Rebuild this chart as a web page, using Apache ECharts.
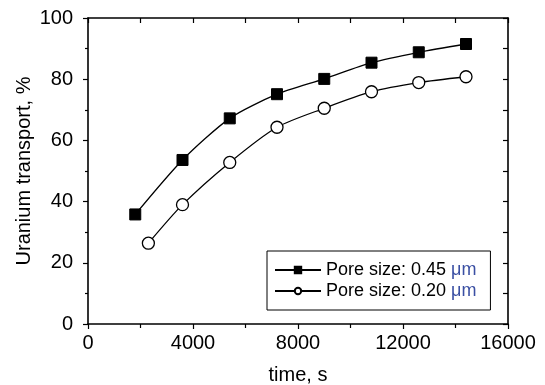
<!DOCTYPE html>
<html>
<head>
<meta charset="utf-8">
<script src="https://cdn.jsdelivr.net/npm/echarts@6/dist/echarts.min.js"></script>
<style>html,body{margin:0;padding:0;background:#fff}#c{width:545px;height:385px}</style>
</head>
<body>
<div id="c"></div>
<script>
var seriesNames = ['Pore size: 0.45 \u03bcm', 'Pore size: 0.20 \u03bcm'];
var times045 = [1800, 3600, 5400, 7200, 9000, 10800, 12600, 14400];
var values045 = [35.8, 53.6, 67.2, 75.1, 80.1, 85.4, 88.8, 91.5];
var times020 = [2300, 3600, 5400, 7200, 9000, 10800, 12600, 14400];
var values020 = [26.4, 39.0, 52.8, 64.3, 70.5, 75.9, 78.9, 80.8];
var xTickLabels = ['0', '4000', '8000', '12000', '16000'];
var yTickLabels = ['0', '20', '40', '60', '80', '100'];

function pairs(xs, ys) { return xs.map(function (x, i) { return [x, ys[i]]; }); }

var FONT = 'Liberation Sans, Arial, sans-serif';
var axisLineStyle = { color: '#000', width: 1.6 };

var chart = echarts.init(document.getElementById('c'), null, { renderer: 'canvas' });
chart.setOption({
  animation: false,
  backgroundColor: '#fff',
  grid: { left: 88, right: 37, top: 18, bottom: 61, containLabel: false, outerBoundsMode: 'none' },
  legend: {
    orient: 'vertical',
    left: 267, top: 251,
    width: 225,
    padding: [10, 14, 10, 7],
    borderColor: '#000', borderWidth: 1,
    itemWidth: 46, itemHeight: 8, itemGap: 3,
    data: seriesNames,
    formatter: function (name) {
      var idx = name.indexOf('\u03bcm');
      return name.slice(0, idx) + '{u|\u03bcm}';
    },
    textStyle: {
      fontFamily: FONT, fontSize: 18, color: '#000', lineHeight: 18, padding: [0, 0, 0, 0],
      rich: { u: { fontFamily: FONT, fontSize: 18, lineHeight: 18, color: '#3a4fa3' } }
    }
  },
  xAxis: [{
    type: 'value', position: 'bottom', min: 0, max: 16000, interval: 4000,
    name: 'time, s', nameLocation: 'middle', nameGap: 41, nameMoveOverlap: false,
    nameTextStyle: { fontFamily: FONT, fontSize: 20, color: '#000' },
    axisLine: { show: true, lineStyle: axisLineStyle },
    axisTick: { show: true, inside: false, length: 5, lineStyle: { color: '#000', width: 1.2 } },
    minorTick: { show: true, splitNumber: 2, length: 4, lineStyle: { color: '#000', width: 1.2 } },
    axisLabel: { fontFamily: FONT, fontSize: 20, color: '#000', margin: 9,
      formatter: function (v) { return xTickLabels[Math.round(v / 4000)]; } },
    splitLine: { show: false }
  }, {
    type: 'value', position: 'top', min: 0, max: 16000, interval: 2000,
    axisLine: { show: true, onZero: false, lineStyle: axisLineStyle },
    axisTick: { show: true, inside: true, length: 5, lineStyle: { color: '#000', width: 1.2 } },
    axisLabel: { show: false }, splitLine: { show: false }
  }],
  yAxis: [{
    type: 'value', position: 'left', min: 0, max: 100, interval: 20,
    name: 'Uranium transport, %', nameLocation: 'middle', nameGap: 54, nameMoveOverlap: false,
    nameTextStyle: { fontFamily: FONT, fontSize: 20, color: '#000' },
    axisLine: { show: true, lineStyle: axisLineStyle },
    axisTick: { show: true, inside: false, length: 5, lineStyle: { color: '#000', width: 1.2 } },
    minorTick: { show: true, splitNumber: 2, length: 3, lineStyle: { color: '#000', width: 1.2 } },
    axisLabel: { fontFamily: FONT, fontSize: 20, color: '#000', margin: 15,
      formatter: function (v) { return yTickLabels[Math.round(v / 20)]; } },
    splitLine: { show: false }
  }, {
    type: 'value', position: 'right', min: 0, max: 100, interval: 10,
    axisLine: { show: true, onZero: false, lineStyle: axisLineStyle },
    axisTick: { show: true, inside: true, length: 5, lineStyle: { color: '#000', width: 1.2 } },
    axisLabel: { show: false }, splitLine: { show: false }
  }],
  series: [{
    name: seriesNames[0], type: 'line', xAxisIndex: 0, yAxisIndex: 0,
    data: pairs(times045, values045), smooth: 0.25,
    symbol: 'rect', symbolSize: 11,
    lineStyle: { color: '#000', width: 1.3 },
    itemStyle: { color: '#000', borderColor: '#000', borderWidth: 1 }
  }, {
    name: seriesNames[1], type: 'line', xAxisIndex: 0, yAxisIndex: 0,
    data: pairs(times020, values020), smooth: 0.25,
    symbol: 'circle', symbolSize: 12,
    lineStyle: { color: '#000', width: 1.3 },
    itemStyle: { color: '#fff', borderColor: '#000', borderWidth: 1.3 }
  }]
});
</script>
</body>
</html>
